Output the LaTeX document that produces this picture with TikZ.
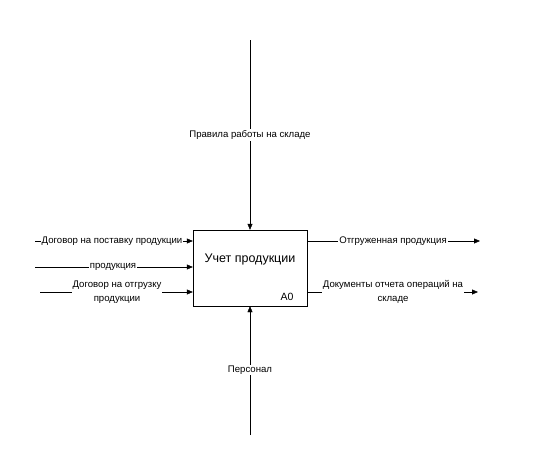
\documentclass[tikz,border=0pt]{standalone}
\usepackage{fontspec}
\setmainfont{Liberation Sans}
\usepackage{tikz}
\usetikzlibrary{arrows.meta,positioning,calc}

\begin{document}
\begin{tikzpicture}[
    x=1pt,y=-1pt,
    fn/.style={draw,minimum width=114pt,minimum height=76pt,inner sep=0pt},
    lbl/.style={fill=white,inner sep=1pt,align=center,font=\fontsize{9.6}{14}\selectfont},
    >={Triangle[length=6pt,width=5pt]}
  ]
    \useasboundingbox (0,0) rectangle (539,472);
    \node[fn] (box) at (250,268) {};
    \node (name) at (250,259) {\fontsize{12.5}{15}\selectfont Учет продукции};
    \node[font=\fontsize{10.5}{12}\selectfont] (num) at (287,297) {A0};

    % control and mechanism
    \coordinate (ctl) at (250,40);
    \coordinate (mech) at (250,435);
    \draw[->] (ctl) -- (box.north);
    \draw[->] (mech) -- (box.south);
    \node[lbl] (ctlt) at (250,135) {Правила работы на складе};
    \node[lbl] (mecht) at (250,370) {Персонал};

    % inputs
    \coordinate (in1) at (35,241);
    \coordinate (in2) at (35,267);
    \coordinate (in3) at (40,292);
    \draw[->] (in1) -- (in1 -| box.west);
    \draw[->] (in2) -- (in2 -| box.west);
    \draw[->] (in3) -- (in3 -| box.west);
    \node[lbl] (in1t) at (112,241) {Договор на поставку продукции};
    \node[lbl] (in2t) at (113,267) {продукция};
    \node[lbl] (in3t) at (117,292) {Договор на отгрузку\\продукции};

    % outputs
    \coordinate (out1) at (480,241);
    \coordinate (out2) at (478,292);
    \draw[->] (out1 -| box.east) -- (out1);
    \draw[->] (out2 -| box.east) -- (out2);
    \node[lbl] (out1t) at (393,241) {Отгруженная продукция};
    \node[lbl] (out2t) at (393,292) {Документы отчета операций на\\складе};
  \end{tikzpicture}
\end{document}
